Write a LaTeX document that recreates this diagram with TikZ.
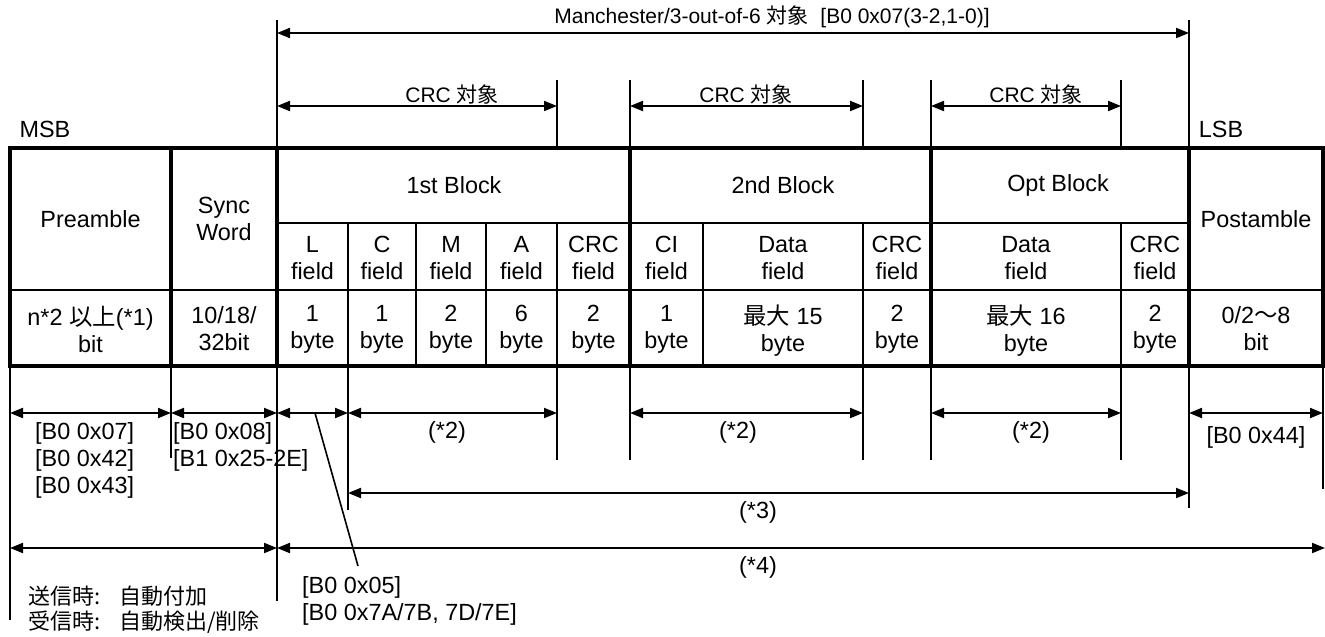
\documentclass[tikz,border=0pt]{standalone}
\usepackage{fontspec}
\setmainfont{Liberation Sans}
\newfontfamily\jp{Noto Sans CJK JP}
\usetikzlibrary{arrows.meta}
\begin{document}
\begin{tikzpicture}[x=1pt,y=-1pt,
  font=\fontsize{23.4}{27}\selectfont,
  thickline/.style={line width=4pt,line cap=rect},
  thinline/.style={line width=2pt},
  extline/.style={line width=1.8pt},
  dim/.style={line width=2pt,{Triangle[length=13pt,width=10pt]}-{Triangle[length=13pt,width=10pt]}},
  cell/.style={align=center,inner sep=0pt},
  lbl/.style={inner sep=0pt,font=\fontsize{21}{25}\selectfont},
  txt/.style={inner sep=0pt,align=left},
]
\useasboundingbox (0,0) rectangle (1325,637);
% columns
\coordinate (c0) at (10,0);
\coordinate (c1) at (171,0);
\coordinate (c2) at (277,0);
\coordinate (cL) at (348,0);
\coordinate (cC) at (416,0);
\coordinate (cM) at (486,0);
\coordinate (cA) at (557,0);
\coordinate (c3) at (630,0);
\coordinate (cCI) at (703,0);
\coordinate (cD) at (863,0);
\coordinate (c4) at (931,0);
\coordinate (cOD) at (1121,0);
\coordinate (c5) at (1189,0);
\coordinate (c6) at (1323,0);
\coordinate (cE) at (1325,0);
% rows
\coordinate (rTop) at (0,20);
\coordinate (rMan) at (0,33);
\coordinate (rCT) at (0,80);
\coordinate (rCRC) at (0,106);
\coordinate (rT) at (0,148);
\coordinate (rS) at (0,223);
\coordinate (rM) at (0,290);
\coordinate (rB) at (0,366);
\coordinate (rA1) at (0,413);
\coordinate (rX) at (0,460);
\coordinate (rA2) at (0,493);
\coordinate (rA3) at (0,548);

% ---- table ----
\draw[thinline] (c0|-rM) -- (c6|-rM);
\draw[thinline] (c2|-rS) -- (c5|-rS);
\foreach \c in {cL,cC,cM,cA,cCI,cD,cOD}
  \draw[thinline] (\c|-rS) -- (\c|-rB);
\draw[thickline] (c0|-rT) rectangle (c6|-rB);
\foreach \c in {c1,c2,c3,c4,c5}
  \draw[thickline,line cap=butt] (\c|-rT) -- (\c|-rB);

% ---- extension lines above ----
\draw[extline] (c2|-rTop) -- (c2|-rT);
\draw[extline] (c5|-rTop) -- (c5|-rT);
\foreach \c in {cA,c3,cD,c4,cOD}
  \draw[extline] (\c|-rCT) -- (\c|-rT);

% ---- extension lines below ----
\coordinate (b0) at (10,620);
\coordinate (b1) at (171,458);
\coordinate (b2) at (277,601);
\coordinate (bL) at (348,510);
\coordinate (b5) at (1189,508);
\coordinate (b6) at (1323,489);
\draw[extline] (c0|-rB) -- (b0);
\draw[extline] (c1|-rB) -- (b1);
\draw[extline] (c2|-rB) -- (b2);
\draw[extline] (cL|-rB) -- (bL);
\draw[extline] (c5|-rB) -- (b5);
\draw[extline] (c6|-rB) -- (b6);
\foreach \c in {cA,c3,cD,c4,cOD}
  \draw[extline] (\c|-rB) -- (\c|-rX);

% ---- dimension arrows above ----
\draw[dim] (c2|-rMan) -- (c5|-rMan);
\draw[dim] (c2|-rCRC) -- (cA|-rCRC);
\draw[dim] (c3|-rCRC) -- (cD|-rCRC);
\draw[dim] (c4|-rCRC) -- (cOD|-rCRC);

% ---- dimension arrows below ----
\draw[dim] (c0|-rA1) -- (c1|-rA1);
\draw[dim] (c1|-rA1) -- (c2|-rA1);
\draw[dim] (c2|-rA1) -- (cL|-rA1);
\draw[dim] (cL|-rA1) -- (cA|-rA1);
\draw[dim] (c3|-rA1) -- (cD|-rA1);
\draw[dim] (c4|-rA1) -- (cOD|-rA1);
\draw[dim] (c5|-rA1) -- (c6|-rA1);
\draw[dim] (cL|-rA2) -- (c5|-rA2);
\draw[dim] (c0|-rA3) -- (c2|-rA3);
\draw[dim] (c2|-rA3) -- (cE|-rA3);

% leader line
\coordinate (dA) at (315,413);
\coordinate (dB) at (358,566);
\draw[thinline,line width=1.6pt] (dA) -- (dB);

% ---- table texts ----
\node[cell] (pre) at (90.5,219) {Preamble};
\node[cell] (sync) at (224,219) {Sync\\Word};
\node[cell] (blk1) at (454,185) {1st Block};
\node[cell] (blk2) at (783,185) {2nd Block};
\node[cell] (blko) at (1058,185) {Opt Block};
\node[cell] (post) at (1256,219) {Postamble};

\node[cell] (fL) at (312.5,258) {L\\field};
\node[cell] (fC) at (382,258) {C\\field};
\node[cell] (fM) at (451,258) {M\\field};
\node[cell] (fA) at (521.5,258) {A\\field};
\node[cell] (fCRC1) at (593.5,258) {CRC\\field};
\node[cell] (fCI) at (666.5,258) {CI\\field};
\node[cell] (fD2) at (783,258) {Data\\field};
\node[cell] (fCRC2) at (897,258) {CRC\\field};
\node[cell] (fDo) at (1026,258) {Data\\field};
\node[cell] (fCRCo) at (1155,258) {CRC\\field};

\node[cell] (sPre) at (90.5,329) {n*2 {\jp 以上}(*1)\\bit};
\node[cell] (sSync) at (224,329) {10/18/\\32bit};
\node[cell] (sL) at (312.5,329) {1\\byte};
\node[cell] (sC) at (382,329) {1\\byte};
\node[cell] (sM) at (451,329) {2\\byte};
\node[cell] (sA) at (521.5,329) {6\\byte};
\node[cell] (sCRC1) at (593.5,329) {2\\byte};
\node[cell] (sCI) at (666.5,329) {1\\byte};
\node[cell] (sD2) at (783,331) {{\jp 最大} 15\\byte};
\node[cell] (sCRC2) at (897,329) {2\\byte};
\node[cell] (sDo) at (1026,331) {{\jp 最大} 16\\byte};
\node[cell] (sCRCo) at (1155,329) {2\\byte};
\node[cell] (sPost) at (1256,329) {0/2{\jp 〜}8\\bit};

% ---- labels above ----
\node[lbl] (man) at (772,17) {Manchester/3-out-of-6 {\jp 対象}\ \ [B0 0x07(3-2,1-0)]};
\node[lbl] (crc1) at (452,95) {CRC {\jp 対象}};
\node[lbl] (crc2) at (746,95) {CRC {\jp 対象}};
\node[lbl] (crc3) at (1036,95) {CRC {\jp 対象}};
\node[inner sep=0pt] (msb) at (45,129) {MSB};
\node[inner sep=0pt] (lsb) at (1221,129) {LSB};

% ---- labels below ----
\node[txt,anchor=north west] (lpre) at (35,422) {[B0 0x07]\\{}[B0 0x42]\\{}[B0 0x43]};
\node[txt,anchor=north west] (lsync) at (173,422) {[B0 0x08]\\{}[B1 0x25-2E]};
\node[inner sep=0pt] (n21) at (447,432) {(*2)};
\node[inner sep=0pt] (n22) at (738,432) {(*2)};
\node[inner sep=0pt] (n23) at (1031,432) {(*2)};
\node[inner sep=0pt] (l44) at (1256,437) {[B0 0x44]};
\node[inner sep=0pt] (n3) at (758,512) {(*3)};
\node[inner sep=0pt] (n4) at (758,567) {(*4)};
\node[txt,anchor=north west] (l05) at (302,576) {[B0 0x05]\\{}[B0 0x7A/7B, 7D/7E]};
\node[txt,anchor=north west,font=\jp\fontsize{22}{25}\selectfont] (ljp) at (28,586)
  {送信時:\hspace{19pt}自動付加\\受信時:\hspace{19pt}自動検出/削除};
\end{tikzpicture}
\end{document}
